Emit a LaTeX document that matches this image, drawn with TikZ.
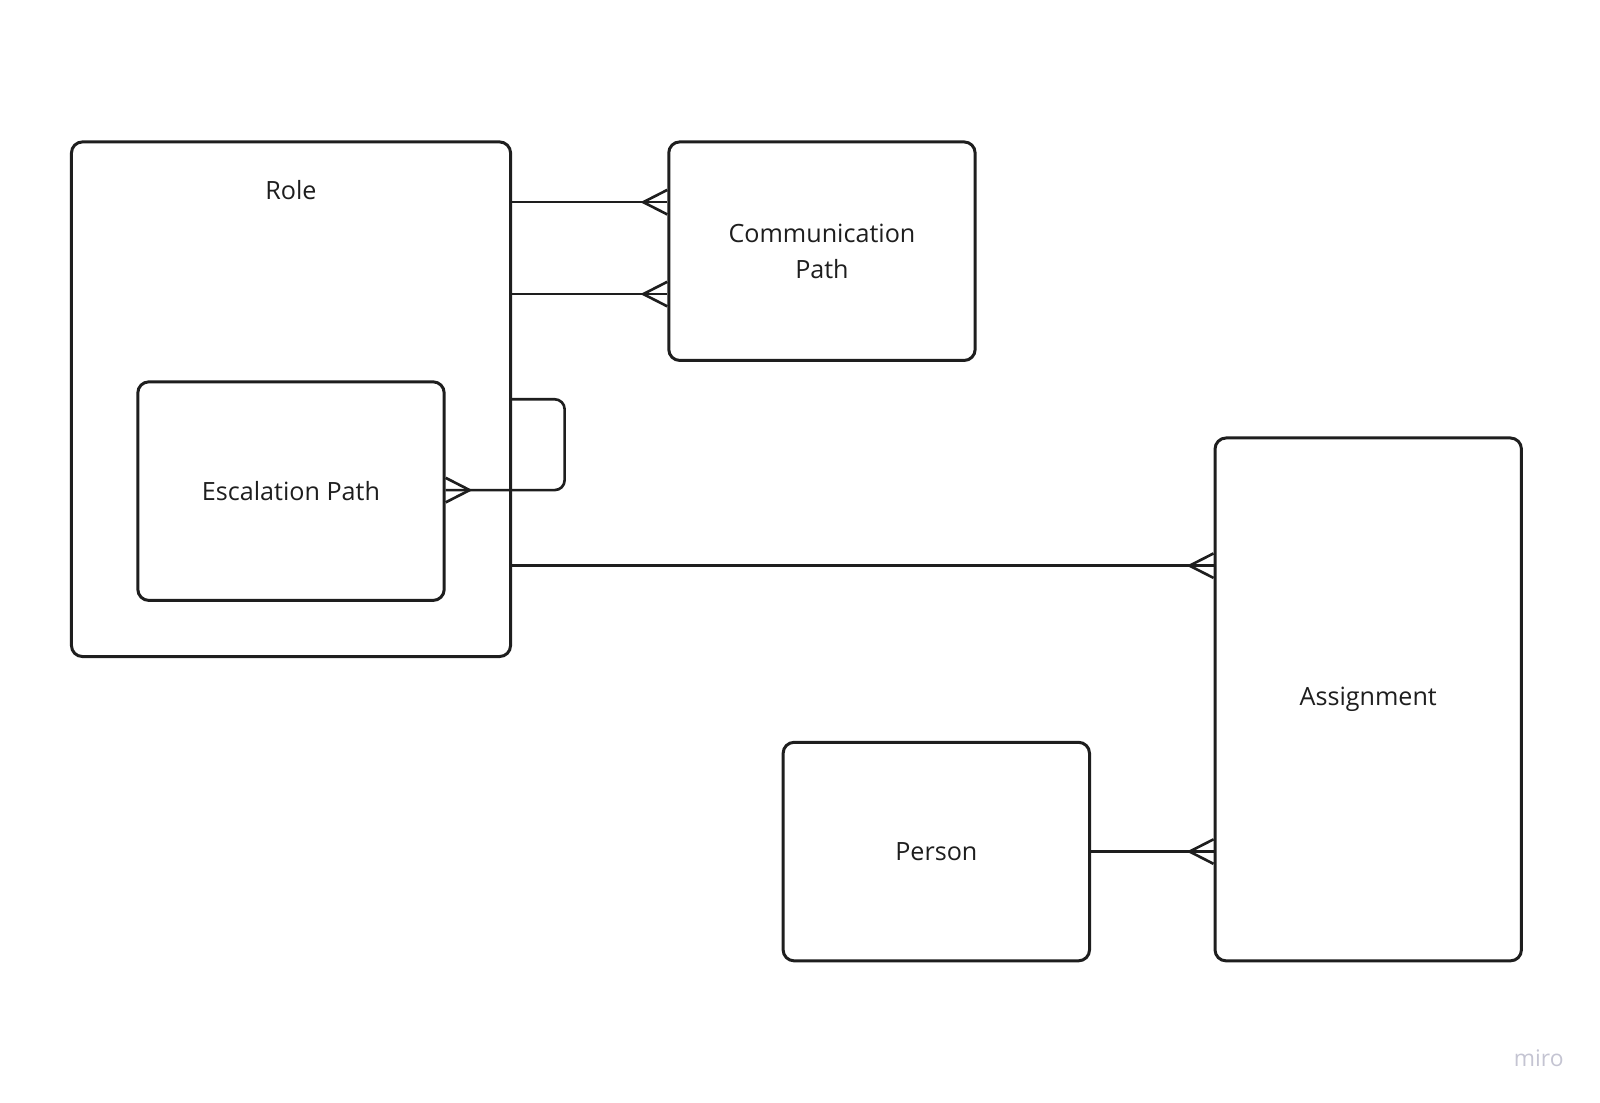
\documentclass[tikz,border=0pt]{standalone}
\usepackage{fontspec}
\setmainfont{Open Sans}
\definecolor{ink}{HTML}{1E1E1E}
\definecolor{wmark}{HTML}{C4C4D2}
\tikzset{
  entity/.style={draw=ink, line width=1.7pt, rounded corners=0.22cm, fill=white,
    minimum width=6.126cm, minimum height=4.37cm, align=center, text=ink,
    font=\fontsize{14.3}{20.2}\selectfont},
  link/.style={draw=ink, line width=1.5pt},
  label/.style={text=ink, font=\fontsize{14.3}{20.2}\selectfont}
}
\begin{document}
\begin{tikzpicture}[x=0.02042cm, y=-0.02042cm]
        \useasboundingbox (0,0) rectangle (1567,1079.3);

        % Entities
        \node[entity, minimum width=8.78cm, minimum height=10.29cm] (role) at (285,391) {};
        \node[label] (rolename) at (285,186) {Role};
        \node[entity] (esc) at (285,481) {Escalation Path};
        \node[entity] (comm) at (805,246) {Communication\\Path};
        \node[entity, minimum height=10.455cm] (assign) at (1340,685) {Assignment};
        \node[entity] (person) at (917,834) {Person};

        % Role to Communication Path
        \draw[link] (role.east |- 0,198) -- (comm.west |- 0,198);
        \draw[link] (comm.west |- 0,186) -- (630,198) -- (comm.west |- 0,210);
        \draw[link] (role.east |- 0,288) -- (comm.west |- 0,288);
        \draw[link] (comm.west |- 0,276) -- (630,288) -- (comm.west |- 0,300);

        % Role to Escalation Path (loop)
        \draw[link, rounded corners=0.2cm] (role.east |- 0,391) -- (553,391) -- (553,480) -- (esc.east |- 0,480);
        \draw[link] (esc.east |- 0,468) -- (460,480) -- (esc.east |- 0,492);

        % Role to Assignment
        \draw[link] (role.east |- 0,554) -- (assign.west |- 0,554);
        \draw[link] (assign.west |- 0,542) -- (1165,554) -- (assign.west |- 0,566);

        % Person to Assignment
        \draw[link] (person.east |- 0,834) -- (assign.west |- 0,834);
        \draw[link] (assign.west |- 0,822) -- (1165,834) -- (assign.west |- 0,846);

        % Watermark
        \node[text=wmark, font=\fontsize{13}{15}\selectfont] (miro) at (1507,1036) {miro};
\end{tikzpicture}
\end{document}
